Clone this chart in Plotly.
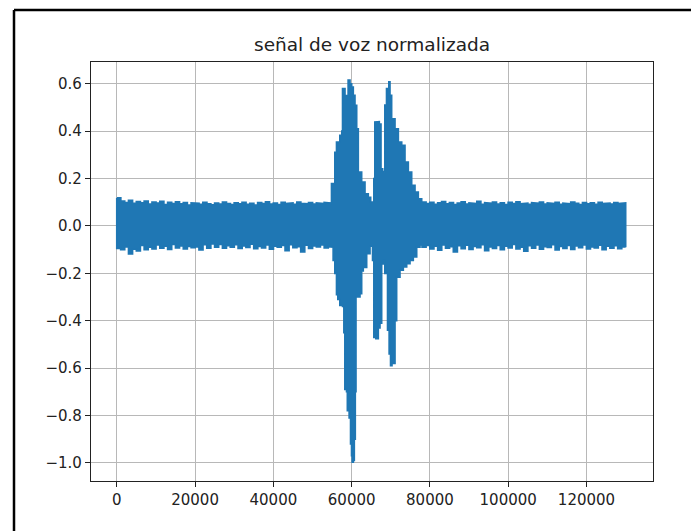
import plotly.graph_objects as go

# ---- data (envelope of the normalized voice signal) ----
# sample index grid of the quiet (noise) parts
noise1_x = list(range(0, 55000, 1000))
noise1_top = [0.118, 0.105, 0.098, 0.108, 0.095, 0.102, 0.097, 0.104, 0.092, 0.100,
              0.096, 0.103, 0.090, 0.099, 0.094, 0.101, 0.093, 0.098, 0.088, 0.097,
              0.095, 0.091, 0.099, 0.093, 0.089, 0.096, 0.092, 0.100, 0.094, 0.090,
              0.097, 0.093, 0.099, 0.091, 0.095, 0.088, 0.098, 0.094, 0.101, 0.092,
              0.096, 0.090, 0.099, 0.094, 0.097, 0.091, 0.100, 0.095, 0.093, 0.098,
              0.092, 0.097, 0.094, 0.099, 0.096]
noise1_bot = [-0.095, -0.100, -0.088, -0.118, -0.098, -0.105, -0.082, -0.100, -0.090, -0.097,
              -0.080, -0.094, -0.085, -0.099, -0.078, -0.093, -0.084, -0.097, -0.086, -0.092,
              -0.088, -0.101, -0.079, -0.094, -0.076, -0.089, -0.078, -0.094, -0.083, -0.090,
              -0.079, -0.095, -0.084, -0.091, -0.077, -0.096, -0.086, -0.093, -0.080, -0.098,
              -0.085, -0.090, -0.082, -0.104, -0.079, -0.092, -0.087, -0.110, -0.081, -0.095,
              -0.084, -0.088, -0.080, -0.093, -0.087]

# voiced part (upper envelope)
speech_top_x = [54870, 55720, 56150, 57000, 57500, 57690, 58280, 59120, 59560, 59990,
                60400, 60830, 61270, 61680, 62540, 63390, 64230, 64840, 65510, 65690,
                65940, 66540, 67050, 67480, 67900, 68070, 68500, 68930, 69520, 69780,
                70200, 71060, 71910, 72770, 73610, 74460, 75320, 76170, 77010, 77880]
speech_top_y = [0.178, 0.310, 0.354, 0.382, 0.400, 0.579, 0.550, 0.615, 0.600, 0.586,
                0.551, 0.509, 0.410, 0.227, 0.185, 0.135, 0.120, 0.100, 0.100, 0.199,
                0.438, 0.440, 0.430, 0.241, 0.230, 0.227, 0.510, 0.580, 0.608, 0.551,
                0.452, 0.410, 0.354, 0.340, 0.269, 0.227, 0.171, 0.142, 0.114, 0.100]

# voiced part (lower envelope)
speech_bot_x = [54870, 55290, 55720, 56150, 56490, 57000, 57690, 58030, 58280, 58710,
                58920, 59380, 59740, 59990, 60150, 60400, 60660, 60910, 61090, 62110,
                62540, 62950, 63820, 64670, 65360, 65690, 66200, 66790, 67220, 67650,
                68070, 68500, 68930, 69190, 69600, 69960, 70290, 71060, 71480, 72330,
                73180, 74040, 74890, 75730, 76600, 77450]
speech_bot_y = [-0.090, -0.145, -0.200, -0.290, -0.310, -0.335, -0.340, -0.450, -0.690, -0.700,
                -0.780, -0.810, -0.920, -0.970, -0.997, -0.990, -0.900, -0.700, -0.300, -0.286,
                -0.190, -0.175, -0.117, -0.085, -0.145, -0.470, -0.476, -0.430, -0.410, -0.160,
                -0.145, -0.200, -0.200, -0.440, -0.540, -0.590, -0.580, -0.400, -0.216, -0.187,
                -0.173, -0.159, -0.145, -0.131, -0.089, -0.080]

noise2_x = list(range(78000, 131000, 1000))
noise2_top = [0.100, 0.094, 0.099, 0.091, 0.097, 0.102, 0.093, 0.098, 0.090, 0.096,
              0.101, 0.092, 0.097, 0.094, 0.103, 0.091, 0.098, 0.095, 0.100, 0.092,
              0.097, 0.090, 0.099, 0.094, 0.101, 0.093, 0.096, 0.091, 0.098, 0.095,
              0.100, 0.092, 0.097, 0.094, 0.099, 0.091, 0.096, 0.093, 0.100, 0.095,
              0.090, 0.098, 0.093, 0.097, 0.091, 0.099, 0.094, 0.096, 0.092, 0.098,
              0.094, 0.097, 0.093]
noise2_bot = [-0.090, -0.082, -0.097, -0.085, -0.102, -0.080, -0.094, -0.087, -0.110, -0.083,
              -0.096, -0.081, -0.099, -0.086, -0.092, -0.079, -0.104, -0.088, -0.095, -0.082,
              -0.100, -0.085, -0.093, -0.078, -0.097, -0.089, -0.106, -0.083, -0.094, -0.080,
              -0.098, -0.087, -0.091, -0.079, -0.101, -0.086, -0.095, -0.082, -0.099, -0.084,
              -0.092, -0.080, -0.097, -0.088, -0.093, -0.081, -0.100, -0.085, -0.094, -0.083,
              -0.096, -0.088, -0.090]

x_ticks = [0, 20000, 40000, 60000, 80000, 100000, 120000]
y_ticks = [-1.0, -0.8, -0.6, -0.4, -0.2, 0.0, 0.2, 0.4, 0.6]
title_text = "señal de voz normalizada"

# ---- build polygon of the waveform envelope (stair-step edges) ----
top_x = noise1_x + speech_top_x + noise2_x
top_y = noise1_top + speech_top_y + noise2_top
bot_x = noise1_x + speech_bot_x + noise2_x
bot_y = noise1_bot + speech_bot_y + noise2_bot


def stairs(xs, ys):
    """Vertices of a step outline: each value held until the next sample."""
    out_x, out_y = [], []
    for i in range(len(xs)):
        out_x.append(xs[i])
        out_y.append(ys[i])
        if i + 1 < len(xs):
            out_x.append(xs[i + 1])
            out_y.append(ys[i])
    return out_x, out_y


tx, ty = stairs(top_x, top_y)
bx, by = stairs(bot_x, bot_y)
poly_x = tx + bx[::-1] + [tx[0]]
poly_y = ty + by[::-1] + [ty[0]]

BLUE = "#1f77b4"
W, H = 691, 531
L, R, T, B = 91, 38, 62, 50

fig = go.Figure()
fig.add_trace(go.Scatter(
    x=poly_x, y=poly_y, mode="lines", fill="toself",
    fillcolor=BLUE, line=dict(color=BLUE, width=1.8),
    hoverinfo="skip", showlegend=False,
))

axis_common = dict(
    showline=True, linecolor="#222", linewidth=1.2, mirror=True,
    showgrid=True, gridcolor="#b8b8b8", gridwidth=1.1,
    zeroline=False, ticks="outside", ticklen=5, tickwidth=1.1, tickcolor="#222",
    tickfont=dict(family="DejaVu Sans", size=15, color="#222"),
)

fig.update_xaxes(range=[-6600, 137000], tickvals=x_ticks,
                 ticktext=[str(v) for v in x_ticks], **axis_common)
fig.update_yaxes(range=[-1.077, 0.692], tickvals=y_ticks,
                 tickformat=".1f", **axis_common)

pw, ph = W - L - R, H - T - B
def px2paper_x(px):
    return (px - L) / pw
def py2paper_y(py):
    return (H - B - py) / ph

# outer frame (left and top edges visible in the picture)
fig.add_shape(type="line", xref="paper", yref="paper",
              x0=px2paper_x(14), x1=px2paper_x(14), y0=py2paper_y(10), y1=py2paper_y(540),
              line=dict(color="black", width=2.5))
fig.add_shape(type="line", xref="paper", yref="paper",
              x0=px2paper_x(14), x1=px2paper_x(700), y0=py2paper_y(10), y1=py2paper_y(10),
              line=dict(color="black", width=2.5))

fig.add_annotation(text=title_text, xref="paper", yref="paper",
                   x=0.5, y=py2paper_y(44), xanchor="center", yanchor="middle",
                   showarrow=False,
                   font=dict(family="DejaVu Sans", size=18.5, color="#222"))

fig.update_layout(
    width=W, height=H,
    margin=dict(l=L, r=R, t=T, b=B, pad=0),
    paper_bgcolor="white", plot_bgcolor="white",
    font=dict(family="DejaVu Sans"),
)

fig.write_html("out.html")
